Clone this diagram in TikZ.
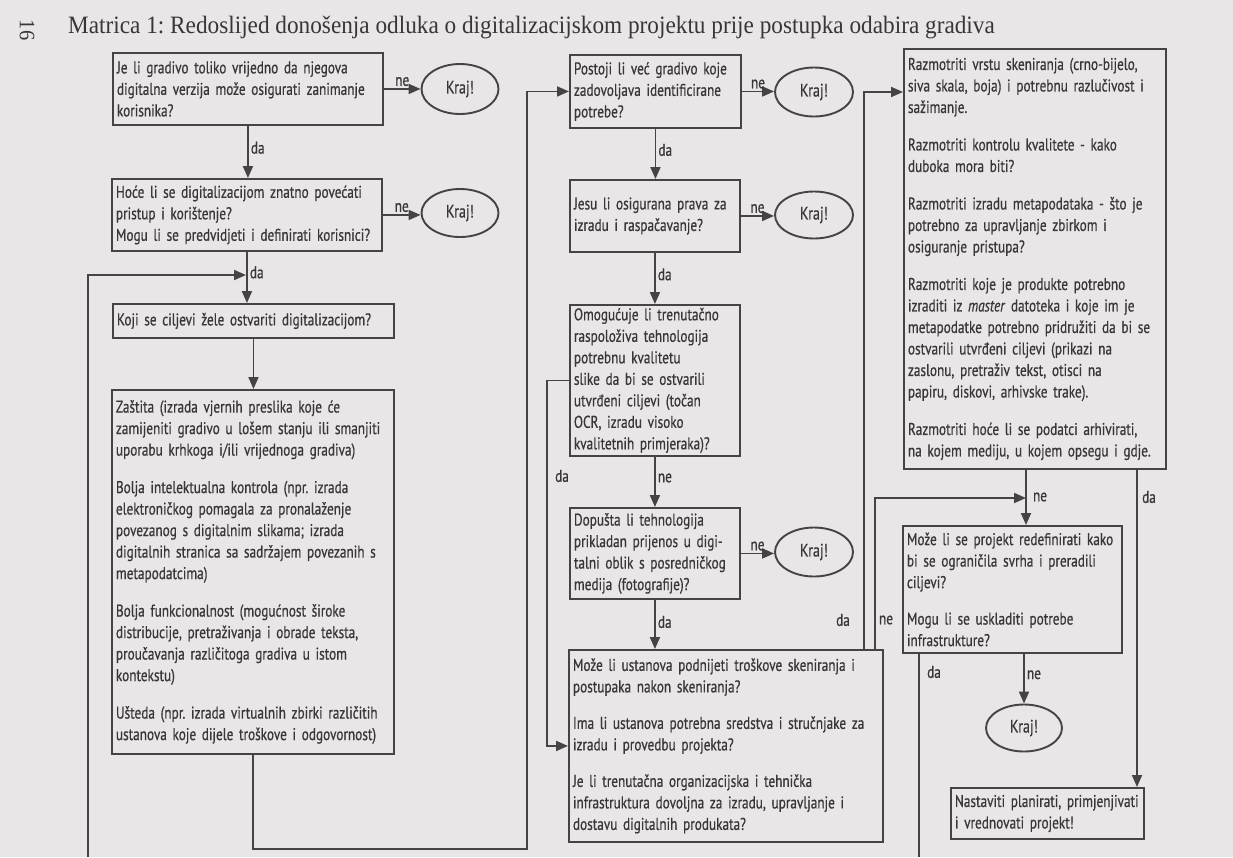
\documentclass[tikz,border=0pt]{standalone}
\usepackage{fontspec}
\setmainfont{PT Sans}[FakeStretch=0.78,FakeBold=0.6]
\newfontfamily\titlefont{Liberation Serif}[FakeStretch=0.93]
\usetikzlibrary{arrows.meta,shapes.geometric}
\definecolor{paper}{HTML}{E8E6E7}
\definecolor{ink}{HTML}{464344}
\definecolor{txt}{HTML}{383637}
\frenchspacing
\begin{document}
\begin{tikzpicture}[x=1pt,y=-1pt,
  every node/.style={text=txt},
  box/.style={draw=ink, line width=1.9pt, rectangle, anchor=north west, align=left,
    inner xsep=4pt, inner ysep=0pt, font=\fontsize{17}{21.5}\selectfont},
  endnode/.style={draw=ink, line width=1.9pt, ellipse, inner sep=0pt,
    font=\fontsize{18}{20}\selectfont},
  arr/.style={draw=ink, line width=1.9pt, -{Triangle[length=12pt,width=10pt]}},
  link/.style={draw=ink, line width=1.9pt},
  lbl/.style={font=\fontsize{17}{20}\selectfont, inner sep=2pt},
]
\fill[paper] (0,0) rectangle (1233,857);
\useasboundingbox (0,0) rectangle (1233,857);

\node[anchor=base west, inner sep=0, font=\titlefont\fontsize{25}{30}\selectfont] (title) at (68,33)
  {Matrica 1: Redoslijed donošenja odluka o digitalizacijskom projektu prije postupka odabira gradiva};
\node[rotate=-90, inner sep=0, font=\titlefont\fontsize{22}{26}\selectfont] (pg) at (27,30) {16};

% left column
\node[box, text width=262pt, minimum height=72pt] (q1) at (112,52)
  {Je li gradivo toliko vrijedno da njegova\\digitalna verzija može osigurati zanimanje\\korisnika?};
\node[endnode, minimum width=77pt, minimum height=50pt] (k1) at (460,89) {Kraj!};
\node[box, text width=262pt, minimum height=72pt] (q2) at (111,178)
  {Hoće li se digitalizacijom znatno povećati\\pristup i korištenje?\\Mogu li se predvidjeti i definirati korisnici?};
\node[endnode, minimum width=77pt, minimum height=48pt] (k2) at (460,213) {Kraj!};
\node[box, text width=273pt, minimum height=34pt] (goals) at (112,303)
  {Koji se ciljevi žele ostvariti digitalizacijom?};
\node[box, text width=274pt, minimum height=364pt] (long) at (111,389)
  {Zaštita (izrada vjernih preslika koje će\\zamijeniti gradivo u lošem stanju ili smanjiti\\uporabu krhkoga i/ili vrijednoga gradiva)\\[16pt]
   Bolja intelektualna kontrola (npr. izrada\\elektroničkog pomagala za pronalaženje\\povezanog s digitalnim slikama; izrada\\digitalnih stranica sa sadržajem povezanih s\\metapodatcima)\\[16pt]
   Bolja funkcionalnost (mogućnost široke\\distribucije, pretraživanja i obrade teksta,\\proučavanja različitoga gradiva u istom\\kontekstu)\\[16pt]
   Ušteda (npr. izrada virtualnih zbirki različitih\\ustanova koje dijele troškove i odgovornost)};

% middle column
\node[box, text width=163pt, minimum height=73pt] (postoji) at (569,54)
  {Postoji li već gradivo koje\\zadovoljava identificirane\\potrebe?};
\node[endnode, minimum width=78pt, minimum height=49pt] (k3) at (814,92) {Kraj!};
\node[box, text width=162pt, minimum height=72pt] (jesu) at (569,179)
  {Jesu li osigurana prava za\\izradu i raspačavanje?};
\node[endnode, minimum width=78pt, minimum height=47pt] (k4) at (814,215) {Kraj!};
\node[box, text width=162pt, minimum height=151pt] (omog) at (569,304)
  {Omogućuje li trenutačno\\raspoloživa tehnologija\\potrebnu kvalitetu\\slike da bi se ostvarili\\utvrđeni ciljevi (točan\\OCR, izradu visoko\\kvalitetnih primjeraka)?};
\node[box, text width=162pt, minimum height=91pt] (dop) at (569,507)
  {Dopušta li tehnologija\\prikladan prijenos u digi-\\talni oblik s posredničkog\\medija (fotografije)?};
\node[endnode, minimum width=78pt, minimum height=49pt] (k5) at (814,552) {Kraj!};
\node[box, text width=306pt, minimum height=192pt] (main) at (568,649)
  {Može li ustanova podnijeti troškove skeniranja i\\postupaka nakon skeniranja?\\[15pt]
   Ima li ustanova potrebna sredstva i stručnjake za\\izradu i provedbu projekta?\\[15pt]
   Je li trenutačna organizacijska i tehnička\\infrastruktura dovoljna za izradu, upravljanje i\\dostavu digitalnih produkata?};

% right column
\node[box, text width=254pt, minimum height=420pt] (razm) at (903,48)
  {Razmotriti vrstu skeniranja (crno-bijelo,\\siva skala, boja) i potrebnu razlučivost i\\sažimanje.\\[16pt]
   Razmotriti kontrolu kvalitete - kako\\duboka mora biti?\\[16pt]
   Razmotriti izradu metapodataka - što je\\potrebno za upravljanje zbirkom i\\osiguranje pristupa?\\[16pt]
   Razmotriti koje je produkte potrebno\\izraditi iz \textit{master} datoteka i koje im je\\metapodatke potrebno pridružiti da bi se\\ostvarili utvrđeni ciljevi (prikazi na\\zaslonu, pretraživ tekst, otisci na\\papiru, diskovi, arhivske trake).\\[16pt]
   Razmotriti hoće li se podatci arhivirati,\\na kojem mediju, u kojem opsegu i gdje.};
\node[box, text width=211pt, minimum height=127pt] (redef) at (902,525)
  {Može li se projekt redefinirati kako\\bi se ograničila svrha i preradili\\ciljevi?\\[15pt]
   Mogu li se uskladiti potrebe\\infrastrukture?};
\node[endnode, minimum width=76pt, minimum height=47pt] (k6) at (1024,728) {Kraj!};
\node[box, text width=185pt, minimum height=51pt] (nast) at (950,787)
  {Nastaviti planirati, primjenjivati\\i vrednovati projekt!};

% junction coordinates and free ends
\coordinate (j1) at (246,275);
\coordinate (loopL) at (88,857);
\coordinate (jn) at (1026,498);
\coordinate (offR) at (919,857);
\coordinate (mda) at ([xshift=-20pt]main.north east);
\coordinate (mne) at ([xshift=-9pt]main.north east);

% left connectors
\draw[arr] (q1.east) -- node[lbl,above] {ne} (q1.east -| k1.west);
\draw[arr] (q1.south) -- node[lbl,right,pos=0.42] {da} (q1.south |- q2.north);
\draw[arr] (q2.east) -- node[lbl,above] {ne} (q2.east -| k2.west);
\draw[arr] (q2.south) -- node[lbl,right,pos=0.4] {da} (q2.south |- goals.north);
\draw[arr] (loopL) |- (j1);
\draw[arr] (goals.south) -- (goals.south |- long.north);
\draw[arr] (long.south) -- ++(0,94) -| ([xshift=-42pt]postoji.west) -- (postoji.west);

% middle connectors
\draw[arr] (postoji.east) -- node[lbl,above] {ne} (postoji.east -| k3.west);
\draw[arr] (postoji.south) -- node[lbl,right,pos=0.42] {da} (postoji.south |- jesu.north);
\draw[arr] (jesu.east) -- node[lbl,above] {ne} (jesu.east -| k4.west);
\draw[arr] (jesu.south) -- node[lbl,right,pos=0.42] {da} (jesu.south |- omog.north);
\draw[arr] (omog.south) -- node[lbl,right,pos=0.42] {ne} (omog.south |- dop.north);
\draw[arr] (omog.west) -- ++(-22,0) |- (main.west);
\node[lbl] (lda1) at (562,476) {da};
\draw[arr] (dop.east) -- node[lbl,above] {ne} (dop.east -| k5.west);
\draw[arr] (dop.south) -- node[lbl,right,pos=0.45] {da} (dop.south |- main.north);

% right connectors
\draw[arr] (mda) |- (razm.west |- 0,92);
\draw[arr] (mne) |- (jn);
\node[lbl] (lda2) at (843,620) {da};
\node[lbl] (lne2) at (886,620) {ne};
\draw[arr] (razm.south -| jn) -- (redef.north -| jn);
\node[lbl] (lne3) at (1040,497) {ne};
\draw[arr] (razm.south -| 1137,0) -- (nast.north -| 1137,0);
\node[lbl] (lda3) at (1149,497) {da};
\draw[arr] (redef.south -| k6.north) -- node[lbl,right,pos=0.42] {ne} (k6.north);
\draw[link] (redef.south -| offR) -- (offR);
\node[lbl] (lda4) at (934,672) {da};
\end{tikzpicture}
\end{document}
